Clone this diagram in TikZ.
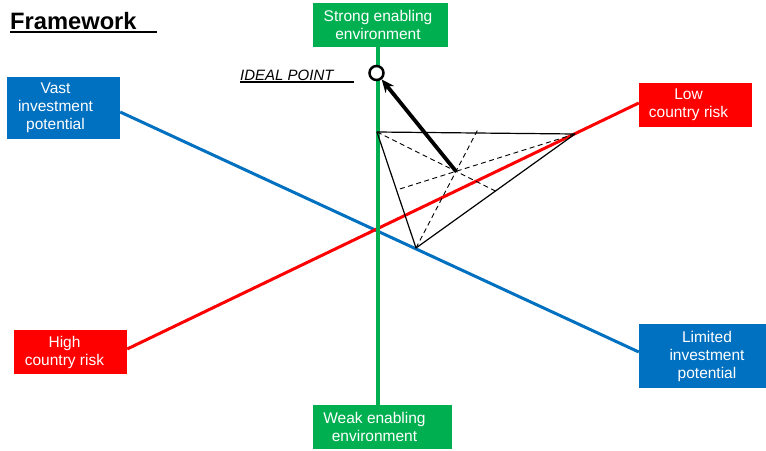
\documentclass[tikz,border=0pt]{standalone}
\usepackage{fontspec}
\setmainfont{Liberation Sans}
\usetikzlibrary{arrows.meta,calc}
\definecolor{cblue}{HTML}{0070C0}
\definecolor{cred}{HTML}{FF0000}
\definecolor{cgreen}{HTML}{00B050}
\newcommand\ulrule[3]{\rlap{\rule[#2]{#1}{#3}}}
\begin{document}
\begin{tikzpicture}[x=1pt,y=-1pt,
  box/.style={rectangle, inner sep=0pt, draw=none},
  boxtext/.style={text=white, align=center, font=\fontsize{15.5}{18}\selectfont, inner sep=0pt},
  axisline/.style={line width=3pt},
  tri/.style={line width=1.2pt, black},
  med/.style={line width=0.9pt, black, dash pattern=on 5pt off 3.5pt},
]
\useasboundingbox (0,0) rectangle (766,450);
\fill[white] (0,0) rectangle (766,450);

% boxes
\node[box, fill=cgreen, minimum width=135pt, minimum height=43.5pt] (strong) at (380.5,24.75) {};
\node[box, fill=cgreen, minimum width=139pt, minimum height=44pt] (weak) at (382.5,427) {};
\node[box, fill=cblue, minimum width=113pt, minimum height=62pt] (vast) at (63.5,108) {};
\node[box, fill=cred, minimum width=113pt, minimum height=44pt] (low) at (695.5,105) {};
\node[box, fill=cred, minimum width=113pt, minimum height=44pt] (high) at (70.5,352) {};
\node[box, fill=cblue, minimum width=127pt, minimum height=64pt] (limited) at (702.5,356) {};

\node[boxtext] (strongt) at ([xshift=-2.5pt]strong.center) {Strong enabling\\environment};
\node[boxtext] (weakt) at ([xshift=-8pt]weak.center) {Weak enabling\\environment};
\node[boxtext] (vastt) at ([xshift=-8pt]vast.center) {Vast\\investment\\potential};
\node[boxtext] (lowt) at ([xshift=-7pt]low.center) {Low\\country risk};
\node[boxtext] (hight) at ([xshift=-6pt]high.center) {High\\country risk};
\node[boxtext] (limitedt) at ([xshift=4.5pt]limited.center) {Limited\\investment\\potential};

% axes
\draw[axisline, cblue] ([yshift=-4pt]vast.east) -- ([yshift=4pt]limited.west);
\draw[axisline, cred] ([yshift=3pt]high.east) -- ([yshift=2pt]low.west);
\draw[axisline, cgreen, line width=3.5pt] ([xshift=-2.5pt]strong.south) -- ([xshift=-4.5pt]weak.north);

% triangle
\coordinate (A) at (377,132);
\coordinate (B) at (575,134);
\coordinate (C) at (416,248);
\coordinate (mBC) at ($(B)!0.5!(C)$);
\coordinate (mAC) at ($(A)!0.5!(C)$);
\coordinate (mAB) at ($(A)!0.5!(B)$);
\coordinate (G) at ($(A)!2/3!(mBC)$);
\draw[med] (A) -- (mBC);
\draw[med] (B) -- (mAC);
\draw[med] (C) -- ($(C)!1.03!(mAB)$);
\draw[tri, line join=round] (A) -- (B) -- (C) -- cycle;

% ideal point
\node[circle, draw=black, line width=2.5pt, fill=white, minimum size=14pt, inner sep=0pt] (ideal) at (376.5,73) {};
\draw[line width=3.8pt, -{Stealth[length=13pt,width=11pt]}] (G) -- (ideal);

% texts
\node[anchor=base west, inner sep=0pt, font=\fontsize{23.7}{28}\selectfont\bfseries] (title) at (10,29.5) {\ulrule{147pt}{-3.5pt}{2pt}Framework};
\node[anchor=base west, inner sep=0pt, font=\fontsize{15}{18}\selectfont\itshape] (idealtext) at (240,80) {\ulrule{114pt}{-2.5pt}{1.3pt}IDEAL POINT};
\end{tikzpicture}
\end{document}
